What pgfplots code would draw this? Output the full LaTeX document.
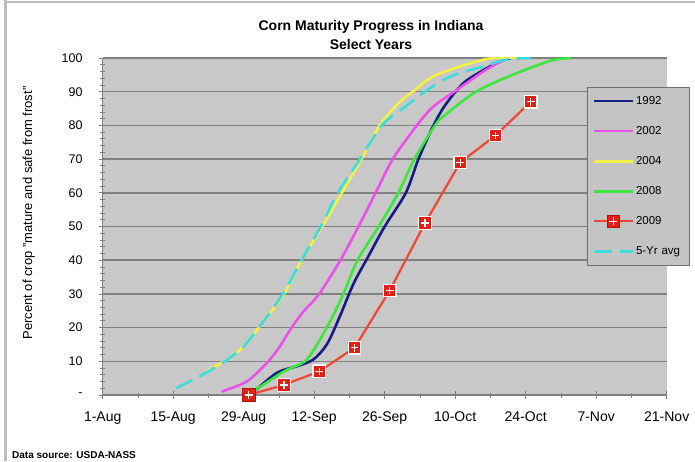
\documentclass[border=0pt]{standalone}
\usepackage{pgfplots}
\pgfplotsset{compat=1.18}
\usepackage{fontspec}
\setmainfont{Liberation Sans}
\definecolor{plotbg}{RGB}{200,200,200}
\definecolor{gridc}{RGB}{128,128,128}
\definecolor{legbg}{RGB}{196,196,196}
\definecolor{legdraw}{RGB}{110,110,110}
\definecolor{c1992}{RGB}{20,30,130}
\definecolor{c2002}{RGB}{235,80,235}
\definecolor{c2004}{RGB}{245,240,70}
\definecolor{c2008}{RGB}{60,230,60}
\definecolor{c2009}{RGB}{240,70,50}
\definecolor{c5yr}{RGB}{60,220,220}
\definecolor{mkfill}{RGB}{232,30,20}
\definecolor{mkdraw}{RGB}{170,20,10}
\definecolor{framec}{RGB}{190,190,190}

\pgfdeclareplotmark{sqplus}{%
  \pgfpathrectangle{\pgfpoint{-\pgfplotmarksize}{-\pgfplotmarksize}}{\pgfpoint{2\pgfplotmarksize}{2\pgfplotmarksize}}%
  \pgfusepathqfillstroke
  \pgfsetstrokecolor{white}%
  \pgfsetlinewidth{1.3pt}%
  \pgfpathmoveto{\pgfpoint{-0.6\pgfplotmarksize}{0pt}}\pgfpathlineto{\pgfpoint{0.6\pgfplotmarksize}{0pt}}%
  \pgfpathmoveto{\pgfpoint{0pt}{-0.6\pgfplotmarksize}}\pgfpathlineto{\pgfpoint{0pt}{0.6\pgfplotmarksize}}%
  \pgfusepathqstroke
}

\pgfplotstableread{
d v
29.3 0
34.5 6.5
38.5 8.5
41.8 10.5
44.5 15
47 23
49.8 33
52.7 41
56 50
60.2 60
62.7 70
65.7 80
68 86
71.6 92.5
75.6 96.4
79 99
81 100
}\tabA
\pgfplotstableread{
d v
23.6 1
28.6 4
32.6 9.5
35 14
37.5 20
40 25
43 30
47.2 40
50.8 50
54.2 60
57.6 70
62.4 80
65.6 85.5
70.3 90.5
75 95.4
79 99
80.5 100
}\tabB
\pgfplotstableread{
d v
20.6 7
26.6 12.5
31 20
36 30
39.5 40
43.6 50
47.5 60
51.4 70
55 80
59 87
62 90.5
65.6 94.5
72 98
77.6 100
84 100
}\tabC
\pgfplotstableread{
d v
29.3 0.5
36 7
40.5 10.5
44.5 20
47.8 30
50.6 40
54.8 50
58.7 60
61.9 70
66 80
67.6 82.6
73.6 89.5
79 93.5
85.5 97.4
89.5 99.4
93 100
}\tabD
\pgfplotstableread{
d v
29 0
36 3
43 7
50 14
57 31
64 51
71 69
78 77
85 87
}\tabE
\pgfplotstableread{
d v
14.6 2
21 7
27 13
31 20
35.8 30
39.5 40
43.3 50
46.7 60
51.1 70
55.4 80
59.6 85
64 90
69 94.5
75.6 97.5
80 99.5
85 100
}\tabF

\begin{document}
\begin{tikzpicture}[x=1pt,y=1pt]
\path[use as bounding box] (0,0) rectangle (695,461);
\draw[framec, line width=3pt] (5,0) -- (5,461);
\draw[framec, line width=2pt] (5,459) -- (695,459);
\begin{axis}[
  at={(102.7pt,66pt)}, anchor=south west,
  scale only axis, width=564pt, height=337pt,
  xmin=0, xmax=112, ymin=0, ymax=100,
  axis background/.style={fill=plotbg},
  axis x line=bottom, axis y line=left,
  axis line style={gridc, line width=1pt, -},
  xtick={0,14,...,112},
  xticklabels={1-Aug,15-Aug,29-Aug,12-Sep,26-Sep,10-Oct,24-Oct,7-Nov,21-Nov},
  minor xtick={7,21,...,105},
  ytick={0,10,...,100},
  yticklabels={-,10,20,30,40,50,60,70,80,90,100},
  minor y tick num=4,
  ymajorgrids,
  major grid style={gridc, line width=1.5pt},
  tick style={gridc, line width=0.8pt},
  tick align=center,
  major tick length=8pt, minor tick length=5pt,
  xticklabel style={font=\fontsize{14}{14}\selectfont, inner sep=0pt, yshift=-12.7pt, anchor=north},
  yticklabel style={font=\fontsize{12.5}{12.5}\selectfont, inner sep=0pt, xshift=-16pt, anchor=east},
  legend style={at={(axis description cs:0.8587,0.914)}, anchor=north west,
    fill=legbg, draw=legdraw, line width=0.8pt,
    font=\fontsize{11.5}{11.5}\selectfont, row sep=16.5pt,
    inner xsep=5pt, inner ysep=7pt,
    cells={anchor=west, text width=46pt}},
  legend image code/.code={\draw[mark repeat=2,mark phase=2,#1] plot coordinates {(0pt,0pt)(19.5pt,0pt)(39pt,0pt)};},
  line join=round,
]
\addplot[c1992, line width=2.6pt, smooth, tension=0.5] table[x=d,y=v] {\tabA};
\addlegendentry{1992}
\addplot[c2002, line width=2.6pt, smooth, tension=0.5] table[x=d,y=v] {\tabB};
\addlegendentry{2002}
\addplot[c2004, line width=2.6pt, smooth, tension=0.5] table[x=d,y=v] {\tabC};
\addlegendentry{2004}
\addplot[c2008, line width=2.6pt, smooth, tension=0.5] table[x=d,y=v] {\tabD};
\addlegendentry{2008}
\addplot[c2009, line width=2.2pt, mark=sqplus, mark size=6.3pt, mark options={fill=mkfill, draw=mkdraw, line width=0.8pt}] table[x=d,y=v] {\tabE};
\addlegendentry{2009}
\addplot[c5yr, line width=2.6pt, smooth, tension=0.5, dash pattern=on 18pt off 8pt] table[x=d,y=v] {\tabF};
\addlegendentry{5-Yr avg}
\end{axis}
\node[rotate=90, anchor=base, font=\fontsize{13}{13}\selectfont] at (32,248) {Percent of crop "mature and safe from frost"};
\node[anchor=base, font=\bfseries\fontsize{14}{14}\selectfont] at (371,430.3) {Corn Maturity Progress in Indiana};
\node[anchor=base, font=\bfseries\fontsize{14}{14}\selectfont] at (371,411) {Select Years};
\node[anchor=base west, inner sep=0pt, font=\bfseries\fontsize{10}{10}\selectfont] at (12,2.5) {Data source: USDA-NASS};
\end{tikzpicture}
\end{document}
